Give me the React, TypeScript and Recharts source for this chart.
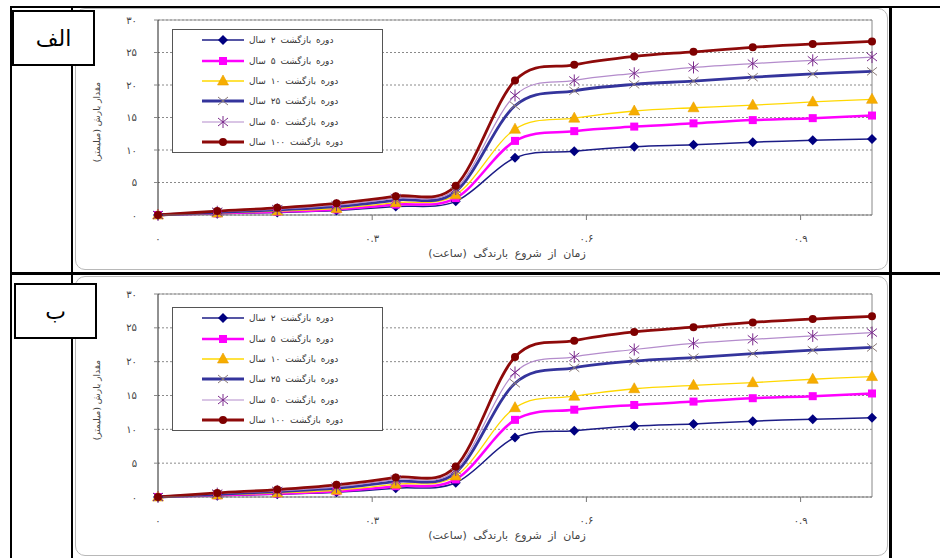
import React from 'react';
import {
  LineChart,
  Line,
  XAxis,
  YAxis,
  CartesianGrid,
  ReferenceLine,
  Legend
} from 'recharts';

// time from start of rainfall (hours), one reading every 5 minutes
const times = [0, 0.083, 0.167, 0.25, 0.333, 0.417, 0.5, 0.583, 0.667, 0.75, 0.833, 0.917, 1.0];

// cumulative rainfall (mm) per return period
const rp2 = [0, 0.2, 0.4, 0.7, 1.3, 2.1, 8.8, 9.8, 10.5, 10.8, 11.2, 11.5, 11.7];
const rp5 = [0, 0.25, 0.5, 0.85, 1.6, 2.6, 11.4, 12.9, 13.6, 14.1, 14.6, 14.9, 15.3];
const rp10 = [0, 0.3, 0.6, 1.0, 1.9, 3.1, 13.2, 14.9, 16.0, 16.5, 16.9, 17.4, 17.8];
const rp25 = [0, 0.4, 0.8, 1.3, 2.3, 3.6, 16.8, 19.1, 20.1, 20.6, 21.2, 21.7, 22.1];
const rp50 = [0, 0.5, 0.9, 1.5, 2.6, 4.0, 18.4, 20.7, 21.8, 22.7, 23.3, 23.8, 24.3];
const rp100 = [0, 0.6, 1.1, 1.8, 2.9, 4.5, 20.7, 23.1, 24.4, 25.1, 25.8, 26.3, 26.7];

const seriesNames = [
  'دوره بازگشت ۲ سال',
  'دوره بازگشت ۵ سال',
  'دوره بازگشت ۱۰ سال',
  'دوره بازگشت ۲۵ سال',
  'دوره بازگشت ۵۰ سال',
  'دوره بازگشت ۱۰۰ سال'
];

const xTicks = [0, 0.3, 0.6, 0.9];
const yTicks = [0, 5, 10, 15, 20, 25, 30];

const xTitle = 'زمان از شروع بارندگی (ساعت)';
const yTitle = 'مقدار بارش (میلیمتر)';

const data = times.map((t, i) => ({
  t,
  rp2: rp2[i],
  rp5: rp5[i],
  rp10: rp10[i],
  rp25: rp25[i],
  rp50: rp50[i],
  rp100: rp100[i]
}));

const series = [
  { key: 'rp2', color: '#1c1c86', width: 1.5, shape: 'diamond', mark: '#000080' },
  { key: 'rp5', color: '#ff00ff', width: 2.5, shape: 'square', mark: '#ff00ff' },
  { key: 'rp10', color: '#ffd800', width: 1.3, shape: 'triangle', mark: '#f7ad00' },
  { key: 'rp25', color: '#34349c', width: 2.8, shape: 'cross', mark: '#8c7c78' },
  { key: 'rp50', color: '#b48ccc', width: 1.2, shape: 'star', mark: '#7b2a8c' },
  { key: 'rp100', color: '#8e0a0a', width: 2.8, shape: 'circle', mark: '#7e0000' }
];

const faDigits = '۰۱۲۳۴۵۶۷۸۹';
const toFa = (v: number) => String(v).replace(/[0-9]/g, d => faDigits[+d]);

// Excel-like smoothed line (Catmull-Rom through the points)
function smoothCurve(context: any) {
  let pts: number[][] = [];
  return {
    areaStart() {},
    areaEnd() {},
    lineStart() {
      pts = [];
    },
    point(x: number, y: number) {
      pts.push([+x, +y]);
    },
    lineEnd() {
      if (!pts.length) return;
      context.moveTo(pts[0][0], pts[0][1]);
      for (let i = 0; i < pts.length - 1; i++) {
        const p0 = pts[i - 1] || pts[i];
        const p1 = pts[i];
        const p2 = pts[i + 1];
        const p3 = pts[i + 2] || p2;
        context.bezierCurveTo(
          p1[0] + (p2[0] - p0[0]) / 6,
          p1[1] + (p2[1] - p0[1]) / 6,
          p2[0] - (p3[0] - p1[0]) / 6,
          p2[1] - (p3[1] - p1[1]) / 6,
          p2[0],
          p2[1]
        );
      }
    }
  };
}

function Marker({ shape, x, y, color }: { shape: string; x: number; y: number; color: string }) {
  switch (shape) {
    case 'diamond':
      return <path d={`M${x},${y - 5}L${x + 5},${y}L${x},${y + 5}L${x - 5},${y}Z`} fill={color} />;
    case 'square':
      return <rect x={x - 4} y={y - 4} width={8} height={8} fill={color} />;
    case 'triangle':
      return (
        <path
          d={`M${x},${y - 6}L${x + 5.5},${y + 4}L${x - 5.5},${y + 4}Z`}
          fill={color}
          stroke="#e8a000"
          strokeWidth={0.6}
        />
      );
    case 'cross':
      return (
        <path
          d={`M${x - 5},${y - 4}L${x + 5},${y + 4}M${x + 5},${y - 4}L${x - 5},${y + 4}`}
          stroke={color}
          strokeWidth={1}
          fill="none"
        />
      );
    case 'star':
      return (
        <path
          d={`M${x - 5},${y - 4}L${x + 5},${y + 4}M${x + 5},${y - 4}L${x - 5},${y + 4}M${x},${y - 6}L${x},${y + 6}`}
          stroke={color}
          strokeWidth={1}
          fill="none"
        />
      );
    default:
      return <circle cx={x} cy={y} r={4} fill={color} />;
  }
}

function LegendBox() {
  return (
    <div
      style={{
        width: 211,
        height: 124,
        border: '1px solid #555',
        background: '#fff',
        boxSizing: 'border-box'
      }}
    >
      {series.map((s, i) => (
        <div key={s.key} style={{ display: 'flex', alignItems: 'center', height: 20.4 }}>
          <svg width={42} height={12} style={{ marginLeft: 29, flex: 'none' }}>
            <line x1={0} y1={6} x2={42} y2={6} stroke={s.color} strokeWidth={s.width} />
            <Marker shape={s.shape} x={21} y={6} color={s.mark} />
          </svg>
          <span
            dir="rtl"
            style={{
              marginLeft: 5,
              fontSize: 9,
              wordSpacing: 2,
              color: '#333',
              fontFamily: '"DejaVu Sans", sans-serif'
            }}
          >
            {seriesNames[i]}
          </span>
        </div>
      ))}
    </div>
  );
}

interface PanelProps {
  top: number;
  height: number;
  marginTop: number;
  marginBottom: number;
  legendTop: number;
}

function Panel({ top, height, marginTop, marginBottom, legendTop }: PanelProps) {
  const plotTop = top + marginTop;
  const plotBottom = top + height - marginBottom - 45;
  return (
    <>
      <div
        style={{
          position: 'absolute',
          left: 75,
          top,
          width: 813,
          height,
          border: '1px solid #b8b8b8',
          borderRadius: 10,
          boxSizing: 'border-box'
        }}
      />
      <div style={{ position: 'absolute', left: 75, top }}>
        <LineChart
          width={813}
          height={height}
          data={data}
          margin={{ top: marginTop, right: 16, left: 0, bottom: marginBottom }}
        >
          <CartesianGrid horizontal vertical={false} stroke="#8a8a8a" strokeDasharray="2 2" />
          <XAxis
            dataKey="t"
            type="number"
            domain={[0, 1]}
            ticks={xTicks}
            height={45}
            tickFormatter={toFa}
            tickSize={5}
            tickMargin={15}
            stroke="#777"
            tick={{ fontSize: 10, fill: '#444', fontFamily: '"DejaVu Sans", sans-serif' }}
          />
          <YAxis
            type="number"
            domain={[0, 30]}
            ticks={yTicks}
            width={83}
            tickFormatter={toFa}
            tickSize={4}
            tickMargin={17}
            stroke="#222"
            tickLine={{ stroke: '#888' }}
            tick={{ fontSize: 10, fill: '#444', fontFamily: '"DejaVu Sans", sans-serif' }}
          />
          <ReferenceLine y={30} stroke="#999" />
          <ReferenceLine x={1} stroke="#888" />
          {series.map(s => (
            <Line
              key={s.key}
              dataKey={s.key}
              type={smoothCurve as any}
              stroke={s.color}
              strokeWidth={s.width}
              isAnimationActive={false}
              activeDot={false}
              dot={(p: any) => (
                <g key={`${s.key}-${p.index}`}>
                  <Marker shape={s.shape} x={p.cx} y={p.cy} color={s.mark} />
                </g>
              )}
            />
          ))}
          <Legend
            layout="vertical"
            align="center"
            verticalAlign="middle"
            content={() => <LegendBox />}
            wrapperStyle={{ left: 97, top: legendTop, width: 211, height: 124 }}
          />
        </LineChart>
      </div>
      <div
        dir="rtl"
        style={{
          position: 'absolute',
          left: 307,
          top: plotBottom + 32,
          width: 400,
          textAlign: 'center',
          fontSize: 11,
          wordSpacing: 3,
          color: '#444'
        }}
      >
        {xTitle}
      </div>
      <div
        dir="rtl"
        style={{
          position: 'absolute',
          left: 97 - 80,
          top: (plotTop + plotBottom) / 2 + 4 - 7,
          width: 160,
          height: 14,
          lineHeight: '14px',
          textAlign: 'center',
          fontSize: 9,
          color: '#444',
          transform: 'rotate(-90deg)'
        }}
      >
        {yTitle}
      </div>
    </>
  );
}

const labelBox = {
  position: 'absolute' as const,
  width: 83,
  height: 56,
  border: '2px solid #000',
  background: '#fff',
  boxSizing: 'border-box' as const,
  display: 'flex',
  alignItems: 'center',
  justifyContent: 'center',
  fontSize: 22,
  color: '#000'
};

export default function App() {
  return (
    <div
      style={{
        position: 'absolute',
        left: 0,
        top: 0,
        width: 940,
        height: 558,
        background: '#fff',
        overflow: 'hidden',
        fontFamily: '"DejaVu Sans", sans-serif'
      }}
    >
      <div style={{ position: 'absolute', left: 10, top: 6, width: 930, height: 2, background: '#000' }} />
      <div style={{ position: 'absolute', left: 10, top: 272, width: 930, height: 3, background: '#000' }} />
      <div style={{ position: 'absolute', left: 10, top: 6, width: 2, height: 552, background: '#000' }} />
      <div style={{ position: 'absolute', left: 71, top: 6, width: 2, height: 552, background: '#000' }} />
      <div style={{ position: 'absolute', left: 889, top: 6, width: 3, height: 552, background: '#000' }} />

      <Panel top={8} height={262} marginTop={12} marginBottom={10} legendTop={21} />
      <Panel top={276} height={280} marginTop={18} marginBottom={14} legendTop={31} />

      <div dir="rtl" style={{ ...labelBox, left: 12, top: 10 }}>الف</div>
      <div dir="rtl" style={{ ...labelBox, left: 14, top: 283 }}>ب</div>
    </div>
  );
}
